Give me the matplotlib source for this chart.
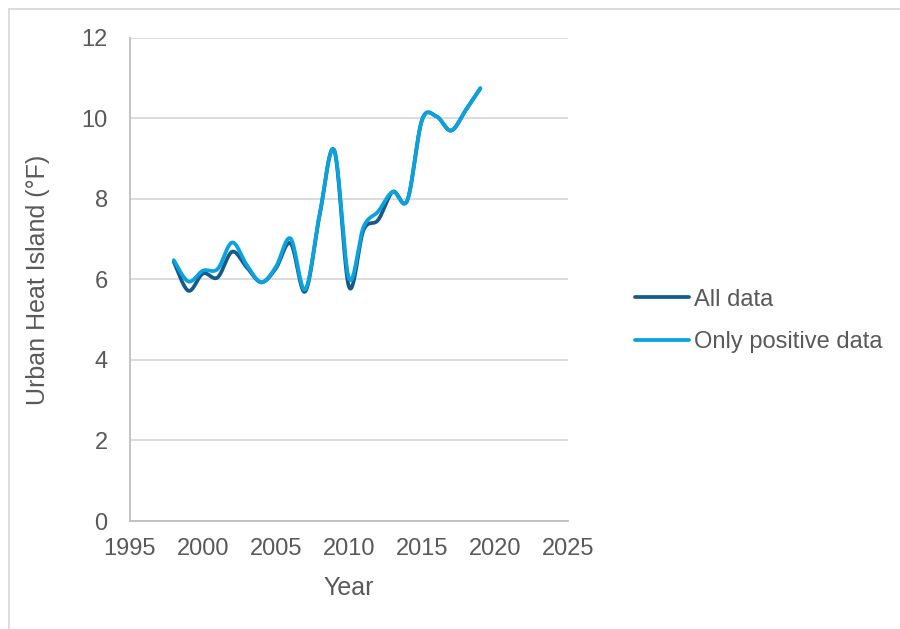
import matplotlib
matplotlib.use("Agg")
import matplotlib.pyplot as plt
import numpy as np

# yearly urban heat island values (deg F)
years = [1998, 1999, 2000, 2001, 2002, 2003, 2004, 2005, 2006, 2007, 2008,
         2009, 2010, 2011, 2012, 2013, 2014, 2015, 2016, 2017, 2018, 2019]
allData = [6.44, 5.72, 6.15, 6.05, 6.69, 6.30, 5.93, 6.28, 6.90, 5.70, 7.62,
           9.20, 5.82, 7.23, 7.48, 8.18, 7.97, 9.96, 10.05, 9.70, 10.21, 10.75]
posData = [6.48, 5.95, 6.22, 6.26, 6.92, 6.36, 5.93, 6.32, 7.02, 5.75, 7.64,
           9.20, 6.03, 7.31, 7.69, 8.18, 7.97, 9.96, 10.05, 9.70, 10.21, 10.75]
yTicks = [0, 2, 4, 6, 8, 10, 12]
xTicks = [1995, 2000, 2005, 2010, 2015, 2020, 2025]

plt.rcParams['font.family'] = ['Liberation Sans', 'DejaVu Sans']
textColor = '#595959'


def smooth(x, y, n=30):
    # excel-like smoothed line: bezier segments, catmull-rom control points
    x = np.asarray(x, float)
    y = np.asarray(y, float)
    px = np.concatenate(([x[0]], x, [x[-1]]))
    py = np.concatenate(([y[0]], y, [y[-1]]))
    outX, outY = [], []
    t = np.linspace(0, 1, n)
    for i in range(len(x) - 1):
        p0 = np.array([px[i + 1], py[i + 1]])
        p3 = np.array([px[i + 2], py[i + 2]])
        c1 = p0 + (p3 - np.array([px[i], py[i]])) / 6
        c2 = p3 - (np.array([px[i + 3], py[i + 3]]) - p0) / 6
        b = (np.outer((1 - t) ** 3, p0) + np.outer(3 * (1 - t) ** 2 * t, c1)
             + np.outer(3 * (1 - t) * t ** 2, c2) + np.outer(t ** 3, p3))
        outX.extend(b[:, 0])
        outY.extend(b[:, 1])
    return outX, outY


fig = plt.figure(figsize=(9, 6.29), dpi=100)
ax = fig.add_axes([0.1444, 0.1717, 0.4867, 0.7679])

sx, sy = smooth(years, allData)
ax.plot(sx, sy, color='#165a8c', lw=2.7, label='All data', solid_capstyle='round')
sx, sy = smooth(years, posData)
ax.plot(sx, sy, color='#0aa2dc', lw=2.7, label='Only positive data', solid_capstyle='round')

ax.set_xlim(1995, 2025)
ax.set_ylim(0, 12)
ax.set_xticks(xTicks)
ax.set_yticks(yTicks)
ax.grid(axis='y', color='#d9d9d9', lw=1.3)
ax.set_axisbelow(True)
for s in ['top', 'right']:
    ax.spines[s].set_visible(False)
for s in ['left', 'bottom']:
    ax.spines[s].set_color('#bfbfbf')
    ax.spines[s].set_linewidth(1.3)
ax.tick_params(length=0, labelsize=17, colors=textColor)
ax.tick_params(axis='y', pad=16)
ax.tick_params(axis='x', pad=12)
ax.set_xlabel('Year', fontsize=18, color=textColor, labelpad=12)
ax.set_ylabel('Urban Heat Island (°F)', fontsize=18, color=textColor, labelpad=23)

fig.legend(loc='center left', bbox_to_anchor=(0.682, 0.49), frameon=False,
           fontsize=17, labelcolor=textColor, handlelength=2.3,
           handletextpad=0.2, labelspacing=0.85)

# outer chart border (top and left visible)
fig.add_artist(plt.Line2D([0.01, 1.0], [0.986, 0.986], color='#d9d9d9', lw=1.3))
fig.add_artist(plt.Line2D([0.01, 0.01], [0.0, 0.986], color='#d9d9d9', lw=1.3))

plt.savefig('out.png', dpi=100)
